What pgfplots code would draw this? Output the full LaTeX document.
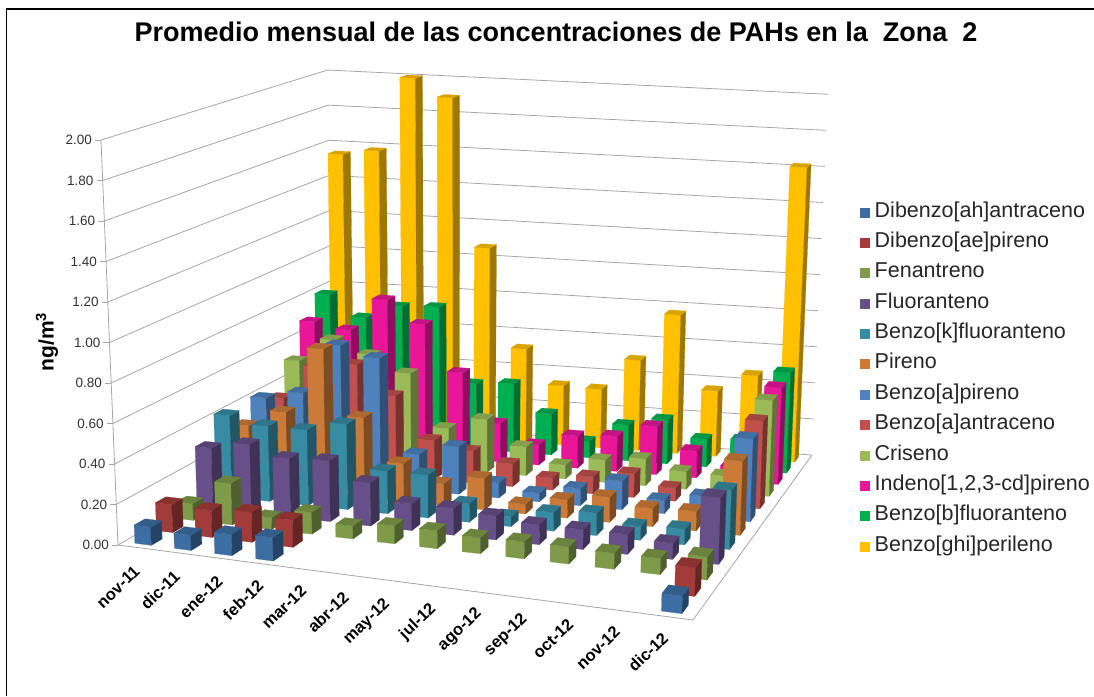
\documentclass[border=0pt]{standalone}
\usepackage{pgfplots}
\usepackage{pgfplotstable}
\pgfplotsset{compat=1.18}
\usepackage{fontspec}
\setmainfont{Liberation Sans}
\pgfplotstableread{
mes A B C D E F G H I J K L
nov-11 0.09 0.14 0.085 0.31 0.425 0.32 0.415 0.365 0.52 0.69 0.80 1.55
dic-11 0.075 0.135 0.21 0.35 0.39 0.41 0.46 0.55 0.65 0.66 0.685 1.58
ene-12 0.105 0.15 0.06 0.30 0.39 0.76 0.73 0.58 0.585 0.84 0.76 2.00
feb-12 0.115 0.135 0.11 0.31 0.44 0.42 0.68 0.43 0.50 0.72 0.77 1.90
mar-12 nan nan 0.065 0.22 0.22 0.20 0.19 0.21 0.22 0.47 0.36 1.07
abr-12 nan nan 0.09 0.135 0.22 0.115 0.25 0.17 0.285 0.21 0.375 0.52
may-12 nan nan 0.09 0.135 0.095 0.165 0.08 0.12 0.155 0.11 0.225 0.33
jul-12 nan nan 0.08 0.12 0.05 0.05 0.045 0.065 0.075 0.175 0.09 0.325
ago-12 nan nan 0.085 0.10 0.095 0.095 0.09 0.09 0.12 0.19 0.195 0.50
sep-12 nan nan 0.085 0.10 0.115 0.13 0.15 0.125 0.145 0.26 0.24 0.765
oct-12 nan nan 0.08 0.10 0.07 0.095 0.07 0.07 0.095 0.145 0.15 0.36
nov-12 nan nan 0.08 0.08 0.08 0.10 0.11 0.04 0.09 0.075 0.16 0.46
dic-12 0.085 0.14 0.115 0.335 0.30 0.38 0.43 0.46 0.51 0.52 0.545 1.62
}\datatable
\definecolor{c0}{HTML}{3C6DA3}
\definecolor{c1}{HTML}{A33B3A}
\definecolor{c2}{HTML}{7F9A48}
\definecolor{c3}{HTML}{674F8A}
\definecolor{c4}{HTML}{378BA3}
\definecolor{c5}{HTML}{CB7B37}
\definecolor{c6}{HTML}{4F81BD}
\definecolor{c7}{HTML}{C0504D}
\definecolor{c8}{HTML}{9BBB59}
\definecolor{c9}{HTML}{E9169A}
\definecolor{c10}{HTML}{00B050}
\definecolor{c11}{HTML}{FFC000}
\definecolor{gridc}{HTML}{A6A6A6}
% projection of the chart's box (u along months, v along series, z in ng/m3) to the page
\newcommand\proj[4]{%
  \pgfmathsetmacro\uu{#1+0.1*#1*(1-#1)}%
  \pgfmathsetmacro\dn{-0.1971*\uu+0.2494*#2+1}%
  \pgfmathsetmacro\bx{(438.4*\uu+298.05*#2+118)/\dn}%
  \pgfmathsetmacro\by{(-47.2*\uu-19.0*#2+545)/\dn}%
  \pgfmathsetmacro\hh{0.5*#3*405/(1-0.0312*\uu+0.1539*#2)}%
  \pgfmathsetmacro\tx{\bx+(\bx-454)/(8541-\by)*\hh}%
  \pgfmathsetmacro\ty{\by-\hh}%
  \expandafter\edef\csname #4\endcsname{(\tx,\ty)}}
\newcommand\poly[5]{% colour, four corners
  \edef\temp{\noexpand\addplot[fill=#1,draw=#1,line width=0.2pt,forget plot] coordinates {#2 #3 #4 #5 #2};}\temp}
\newcommand\onebar[4]{% i, j, z, colour
  \pgfmathsetmacro\ua{(#1+0.29)/13}\pgfmathsetmacro\ub{(#1+0.71)/13}%
  \pgfmathsetmacro\va{(#2+0.25)/12}\pgfmathsetmacro\vb{(#2+0.75)/12}%
  \proj{\ua}{\va}{0}{FLB}\proj{\ub}{\va}{0}{FRB}\proj{\ub}{\vb}{0}{BRB}%
  \proj{\ua}{\va}{#3}{FLT}\proj{\ub}{\va}{#3}{FRT}\proj{\ub}{\vb}{#3}{BRT}\proj{\ua}{\vb}{#3}{BLT}%
  \poly{#4}{\FLB}{\FRB}{\FRT}{\FLT}%
  \poly{#4!62!black}{\FRB}{\BRB}{\BRT}{\FRT}%
  \poly{#4!85!black}{\FLT}{\FRT}{\BRT}{\BLT}}
\def\nanstr{nan}
\begin{document}
\begin{tikzpicture}
\path[use as bounding box] (0,0) rectangle (1094pt,696pt);
\begin{axis}[
  at={(0,0)},anchor=south west,
  scale only axis,width=1094pt,height=696pt,
  xmin=0,xmax=1094,ymin=0,ymax=696,y dir=reverse,
  hide axis,clip=false,
  legend style={at={(axis cs:860,205)},anchor=north west,draw=none,fill=none,
    font=\fontsize{21.5}{24}\selectfont,text=black!85,inner sep=0pt,
    row sep=15.35pt,
    nodes={text height=12pt,text depth=3pt,inner sep=0pt}},
  legend cell align=left,
  legend image code/.code={\path[fill,draw=none,#1] (0pt,-5pt) rectangle (10pt,5pt);\path[draw=none,fill=none] (0pt,0pt) rectangle (14.5pt,0.1pt);},
]
% frame
\addplot[black,line width=1.5pt,forget plot] coordinates {(6.5,696)(6.5,9)(1094,9)};
% walls' grid lines and tick labels
\foreach \z/\lab in {0/0.00,0.2/0.20,0.4/0.40,0.6/0.60,0.8/0.80,1/1.00,1.2/1.20,1.4/1.40,1.6/1.60,1.8/1.80,2/2.00}{
  \proj{0}{0}{\z}{PA}\proj{0}{1}{\z}{PD}\proj{1}{1}{\z}{PC}
  \edef\temp{\noexpand\addplot[gridc,line width=0.8pt,forget plot] coordinates {\PA \PD \PC};}\temp
  \proj{0}{0}{\z}{PA}
  \pgfmathsetmacro\lx{\tx-6}\pgfmathsetmacro\ly{\ty}
  \edef\temp{\noexpand\addplot[gridc,line width=0.8pt,forget plot] coordinates {(\lx,\ly) \PA};
    \noexpand\node[anchor=east,inner sep=3pt,font=\noexpand\fontsize{13.5}{15}\noexpand\selectfont,text=black!80] at (axis cs:\lx,\ly) {\lab};}\temp
}
\proj{0}{0}{0}{PA}\proj{0}{0}{2}{PB}
\edef\temp{\noexpand\addplot[gridc,line width=0.8pt,forget plot] coordinates {\PA \PB};}\temp
% floor edges
\proj{0}{0}{0}{PA}\proj{1}{0}{0}{PB}\proj{1}{1}{0}{PC}
\edef\temp{\noexpand\addplot[gridc,line width=0.8pt,forget plot] coordinates {\PA \PB \PC};}\temp
% bars, back row first
\foreach \j in {11,10,...,0}{
  \pgfmathtruncatemacro\k{\j+1}
  \foreach \i in {0,...,12}{
    \pgfplotstablegetelem{\i}{[index]\k}\of\datatable
    \let\val\pgfplotsretval
    \ifx\val\nanstr\else
      \onebar{\i}{\j}{\val}{c\j}
    \fi
  }
}
% legend
\addlegendimage{fill=c0}\addlegendentry{Dibenzo[ah]antraceno}
\addlegendimage{fill=c1}\addlegendentry{Dibenzo[ae]pireno}
\addlegendimage{fill=c2}\addlegendentry{Fenantreno}
\addlegendimage{fill=c3}\addlegendentry{Fluoranteno}
\addlegendimage{fill=c4}\addlegendentry{Benzo[k]fluoranteno}
\addlegendimage{fill=c5}\addlegendentry{Pireno}
\addlegendimage{fill=c6}\addlegendentry{Benzo[a]pireno}
\addlegendimage{fill=c7}\addlegendentry{Benzo[a]antraceno}
\addlegendimage{fill=c8}\addlegendentry{Criseno}
\addlegendimage{fill=c9}\addlegendentry{Indeno[1,2,3-cd]pireno}
\addlegendimage{fill=c10}\addlegendentry{Benzo[b]fluoranteno}
\addlegendimage{fill=c11}\addlegendentry{Benzo[ghi]perileno}
% texts
\node[font=\bfseries\fontsize{27}{30}\selectfont] at (axis cs:556,32) {Promedio mensual de las concentraciones de PAHs en la\ \ Zona\ \ 2};
\node[font=\bfseries\fontsize{21}{24}\selectfont,rotate=90] at (axis cs:47,342) {ng/m\textsuperscript{3}};
\foreach \cx/\cy/\lab in {118/587/nov-11,160/590/dic-11,201/597/ene-12,243/600/feb-12,284/607/mar-12,328/612/abr-12,367/622/may-12,418/622/jul-12,460/630/ago-12,506/635/sep-12,553/639/oct-12,598/648/nov-12,648/652/dic-12}{
  \edef\temp{\noexpand\node[rotate=44,inner sep=0pt,font=\noexpand\bfseries\noexpand\fontsize{16.5}{18}\noexpand\selectfont] at (axis cs:\cx,\cy) {\lab};}\temp
}
\end{axis}
\end{tikzpicture}
\end{document}
